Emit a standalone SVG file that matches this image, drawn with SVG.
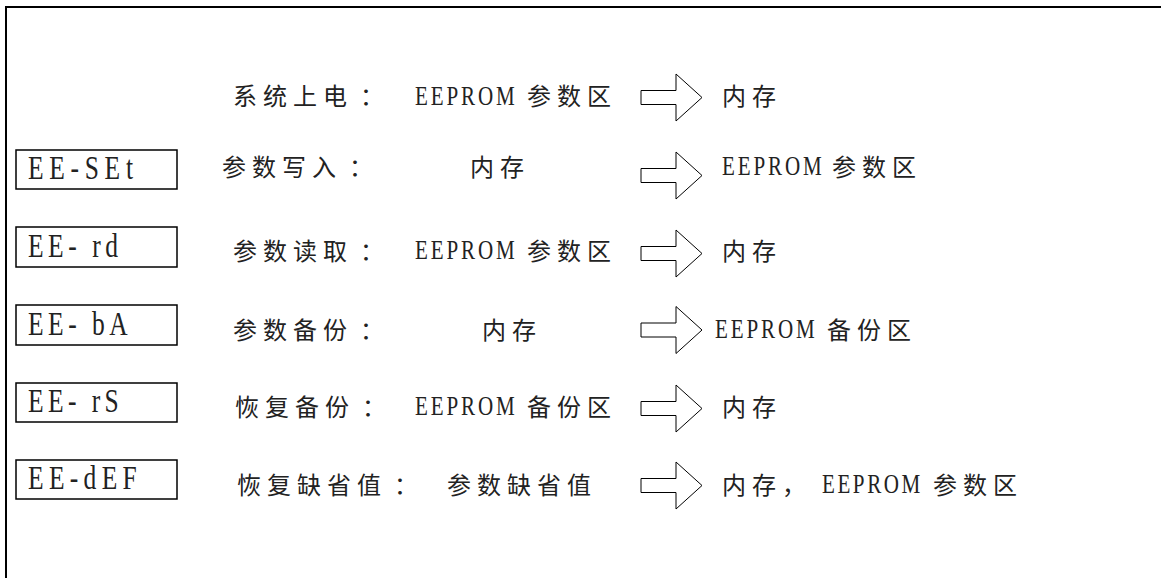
<svg xmlns="http://www.w3.org/2000/svg" width="1161" height="578" viewBox="0 0 1161 578">
<style>
.t{font-family:"Liberation Serif","Noto Sans CJK SC",serif;font-size:24px;fill:#222}
.c{letter-spacing:6px}
.e{font-family:"Liberation Serif",serif;font-size:27px;fill:#222}
.b{font-family:"Liberation Serif",serif;font-size:34px;fill:#222}
.box{fill:#fff;stroke:#000;stroke-width:1.5}
.arr{fill:#fff;stroke:#000;stroke-width:1}
</style>
<defs>
<polygon id="arrow" class="arr" points="0,-7 35,-7 35,-23.5 61,0 35,23.5 35,7 0,7"/>
</defs>
<rect width="1161" height="578" fill="#fff"/>
<path d="M6,578 V7 H1161" fill="none" stroke="#000" stroke-width="2"/>

<g id="row1">
<text class="t c" x="233" y="105">系统上电<tspan dx="7">：</tspan></text>
<text class="e" transform="translate(415,105) scale(0.78,1)" textLength="128">EEPROM</text>
<text class="t c" x="527" y="105">参数区</text>
<text class="t c" x="722" y="105">内存</text>
</g>

<g id="row2">
<rect class="box" x="16" y="150" width="161" height="39"/>
<text class="b" transform="translate(28,179) scale(0.75,1)" textLength="140">EE-SEt</text>
<text class="t c" x="222" y="176">参数写入<tspan dx="7">：</tspan></text>
<text class="t c" x="470" y="176">内存</text>
<text class="e" transform="translate(722,175) scale(0.78,1)" textLength="128">EEPROM</text>
<text class="t c" x="832" y="176">参数区</text>
</g>

<g id="row3">
<rect class="box" x="16" y="227" width="161" height="40"/>
<text class="b" transform="translate(28,257) scale(0.75,1)" textLength="120" xml:space="preserve">EE- rd</text>
<text class="t c" x="233" y="260">参数读取<tspan dx="7">：</tspan></text>
<text class="e" transform="translate(415,259) scale(0.78,1)" textLength="128">EEPROM</text>
<text class="t c" x="527" y="260">参数区</text>
<text class="t c" x="722" y="260">内存</text>
</g>

<g id="row4">
<rect class="box" x="16" y="305" width="161" height="40"/>
<text class="b" transform="translate(28,335) scale(0.75,1)" textLength="133" xml:space="preserve">EE- bA</text>
<text class="t c" x="233" y="339">参数备份<tspan dx="7">：</tspan></text>
<text class="t c" x="482" y="339">内存</text>
<text class="e" transform="translate(715,338) scale(0.78,1)" textLength="128">EEPROM</text>
<text class="t c" x="827" y="339">备份区</text>
</g>

<g id="row5">
<rect class="box" x="16" y="383" width="161" height="39"/>
<text class="b" transform="translate(28,412) scale(0.75,1)" textLength="121" xml:space="preserve">EE- rS</text>
<text class="t c" x="235" y="416">恢复备份<tspan dx="7">：</tspan></text>
<text class="e" transform="translate(415,415) scale(0.78,1)" textLength="128">EEPROM</text>
<text class="t c" x="527" y="416">备份区</text>
<text class="t c" x="722" y="416">内存</text>
</g>

<g id="row6">
<rect class="box" x="16" y="460" width="161" height="39"/>
<text class="b" transform="translate(28,489) scale(0.75,1)" textLength="145">EE-dEF</text>
<text class="t c" x="237" y="494">恢复缺省值<tspan dx="7">：</tspan></text>
<text class="t c" x="447" y="494">参数缺省值</text>
<text class="t c" x="722" y="494">内存，</text>
<text class="e" transform="translate(822,493) scale(0.78,1)" textLength="126">EEPROM</text>
<text class="t c" x="933" y="494">参数区</text>
</g>

<g id="connectors">
<use href="#arrow" x="641" y="97.5"/>
<use href="#arrow" x="641" y="175.5"/>
<use href="#arrow" x="641" y="253.5"/>
<use href="#arrow" x="641" y="330"/>
<use href="#arrow" x="641" y="408.5"/>
<use href="#arrow" x="641" y="485.5"/>
</g>
</svg>
